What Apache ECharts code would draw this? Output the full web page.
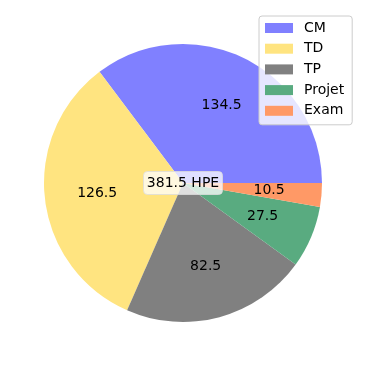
<!DOCTYPE html>
<html><head><meta charset="utf-8">
<script src="https://cdn.jsdelivr.net/npm/echarts@6/dist/echarts.min.js"></script>
<style>html,body{margin:0;padding:0;background:#fff}#c{width:366px;height:366px}</style>
</head><body><div id="c"></div>
<script>
const categories = ['CM', 'TD', 'TP', 'Projet', 'Exam'];
const values = [134.5, 126.5, 82.5, 27.5, 10.5];
const colors = ['#8080ff', '#ffe480', '#808080', '#59ab80', '#ff9966'];
const totalLabel = '381.5 HPE';

const font = 'DejaVu Sans';
const R = 139;
const data = categories.map((n, i) => ({ name: n, value: values[i], itemStyle: { color: colors[i] } }));
const labelData = categories.map((n, i) => ({ name: n, value: values[i] }));

const chart = echarts.init(document.getElementById('c'), null, { renderer: 'canvas' });
chart.setOption({
  animation: false,
  backgroundColor: '#fff',
  title: {
    text: totalLabel, left: 'center', top: 'middle',
    padding: [5, 4],
    backgroundColor: 'rgba(255,255,255,0.75)',
    borderColor: 'rgba(220,220,220,0.8)', borderWidth: 1, borderRadius: 4,
    textStyle: { fontFamily: font, fontSize: 14, fontWeight: 'normal', color: '#000', lineHeight: 14 }
  },
  legend: {
    orient: 'vertical', left: 259, top: 16,
    data: categories,
    icon: 'rect', itemWidth: 28, itemHeight: 10, itemGap: 6.7,
    padding: [5, 8, 7, 6],
    backgroundColor: 'rgba(255,255,255,0.8)',
    borderColor: '#cccccc', borderWidth: 1, borderRadius: 3,
    selectedMode: false,
    textStyle: { fontFamily: font, fontSize: 14, color: '#000', lineHeight: 14, padding: [0, 0, 0, 6] }
  },
  series: [
    {
      type: 'pie', center: ['50%', '50%'], radius: [0, R],
      startAngle: 0, clockwise: false, avoidLabelOverlap: false,
      label: { show: false }, labelLine: { show: false },
      emphasis: { disabled: true }, silent: true,
      data: data
    },
    {
      type: 'pie', center: ['50%', '50%'], radius: [0, R * 1.2],
      startAngle: 0, clockwise: false, avoidLabelOverlap: false,
      itemStyle: { color: 'rgba(0,0,0,0)' },
      label: { show: true, position: 'inside', formatter: p => p.value.toFixed(1),
        fontFamily: font, fontSize: 14, color: '#000' },
      labelLine: { show: false },
      emphasis: { disabled: true }, silent: true,
      data: labelData
    }
  ]
});
</script></body></html>
